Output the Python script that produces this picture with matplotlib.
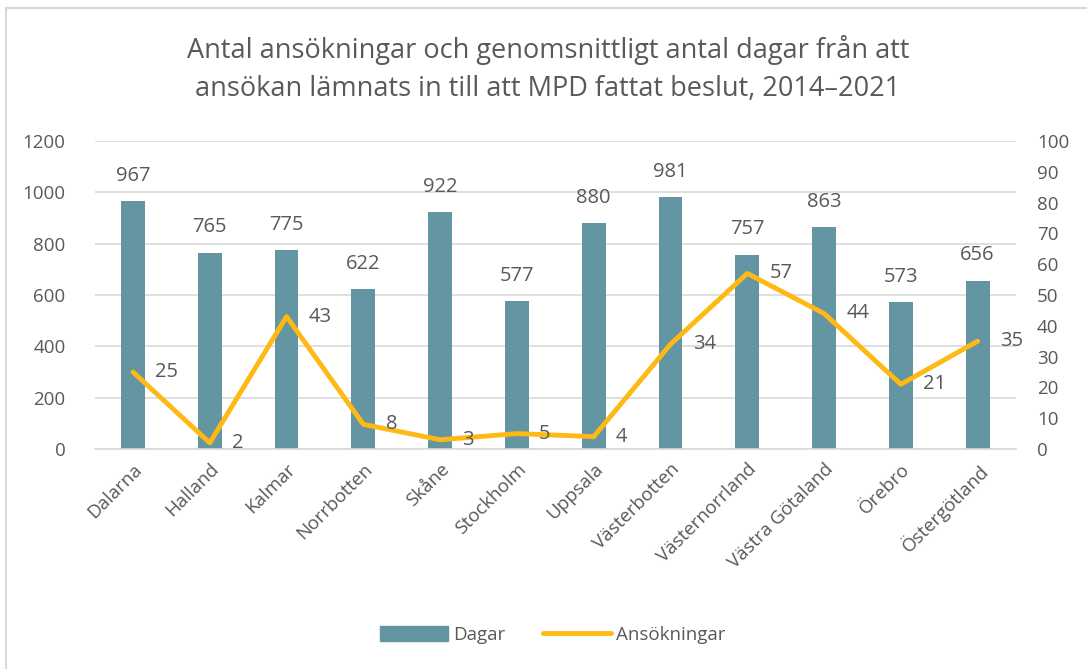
import matplotlib
matplotlib.use("Agg")
import matplotlib.pyplot as plt
from matplotlib.lines import Line2D
import numpy as np

categories = ["Dalarna", "Halland", "Kalmar", "Norrbotten", "Skåne", "Stockholm",
              "Uppsala", "Västerbotten", "Västernorrland", "Västra Götaland",
              "Örebro", "Östergötland"]
dagar = [967, 765, 775, 622, 922, 577, 880, 981, 757, 863, 573, 656]
ansokningar = [25, 2, 43, 8, 3, 5, 4, 34, 57, 44, 21, 35]
left_ticks = [0, 200, 400, 600, 800, 1000, 1200]
right_ticks = [0, 10, 20, 30, 40, 50, 60, 70, 80, 90, 100]

plt.rcParams['font.family'] = ['Open Sans', 'DejaVu Sans']
TXT = "#595959"
BAR = "#6495A2"
LINE = "#FFB914"

W, H = 1087, 669
fig = plt.figure(figsize=(W / 100, H / 100), dpi=100)
ax = fig.add_axes([94.6 / W, 1 - 449 / H, (1016 - 94.6) / W, (449 - 141) / H])
ax2 = ax.twinx()

x = np.arange(len(categories))
ax.bar(x, dagar, width=0.31, color=BAR, zorder=2)
ax.set_xlim(-0.5, len(categories) - 0.5)
ax.set_ylim(0, 1200)
ax.set_yticks(left_ticks)
ax.grid(axis='y', color="#D9D9D9", linewidth=1.2, zorder=0)
ax.set_axisbelow(True)
for s in ax.spines.values():
    s.set_visible(False)
for s in ax2.spines.values():
    s.set_visible(False)
ax.spines['bottom'].set_visible(True)
ax.spines['bottom'].set_color("#D9D9D9")
ax.spines['bottom'].set_linewidth(1.2)

ax.tick_params(axis='both', length=0, colors=TXT, labelsize=13.5)
ax.tick_params(axis='y', pad=21)
ax.set_xticks(x)
ax.set_xticklabels(categories, rotation=45, ha='right', rotation_mode='anchor')
ax.tick_params(axis='x', pad=8)

for xi, v in zip(x, dagar):
    ax.annotate(str(v), (xi, v), xytext=(0, 11), textcoords='offset points',
                ha='center', va='bottom', color=TXT, fontsize=14.5)

ax2.plot(x, ansokningar, color=LINE, linewidth=3.5, solid_joinstyle='round',
         solid_capstyle='round', zorder=3)
ax2.set_ylim(0, 100)
ax2.set_yticks(right_ticks)
ax2.tick_params(axis='y', length=0, colors=TXT, labelsize=13.5, pad=15)
for xi, v in zip(x, ansokningar):
    ax2.annotate(str(v), (xi, v), xytext=(16, 0), textcoords='offset points',
                 ha='left', va='center', color=TXT, fontsize=14.5)

fig.text(548 / W, 1 - 69 / H,
         "Antal ansökningar och genomsnittligt antal dagar från att\nansökan lämnats in till att MPD fattat beslut, 2014–2021",
         ha='center', va='center', color=TXT, fontsize=19.5, linespacing=1.5)

handles = [plt.Rectangle((0, 0), 1, 1, color=BAR),
           Line2D([0], [0], color=LINE, linewidth=3.5, solid_capstyle='round')]
leg = fig.legend(handles, ["Dagar", "Ansökningar"], loc='center',
                 bbox_to_anchor=(553 / W, 1 - 635 / H), ncol=2, frameon=False,
                 fontsize=13.5, handlelength=3.6, handleheight=0.9, columnspacing=2.0,
                 handletextpad=0.3)
for t in leg.get_texts():
    t.set_color(TXT)

# frame edges (top and left visible in reference)
fig.add_artist(Line2D([6 / W, 6 / W], [0, 1 - 8 / H], color="#D9D9D9", linewidth=1.5,
                      transform=fig.transFigure))
fig.add_artist(Line2D([6 / W, 1], [1 - 8 / H, 1 - 8 / H], color="#D9D9D9", linewidth=1.5,
                      transform=fig.transFigure))

fig.savefig("out.png", dpi=100, facecolor='white')
